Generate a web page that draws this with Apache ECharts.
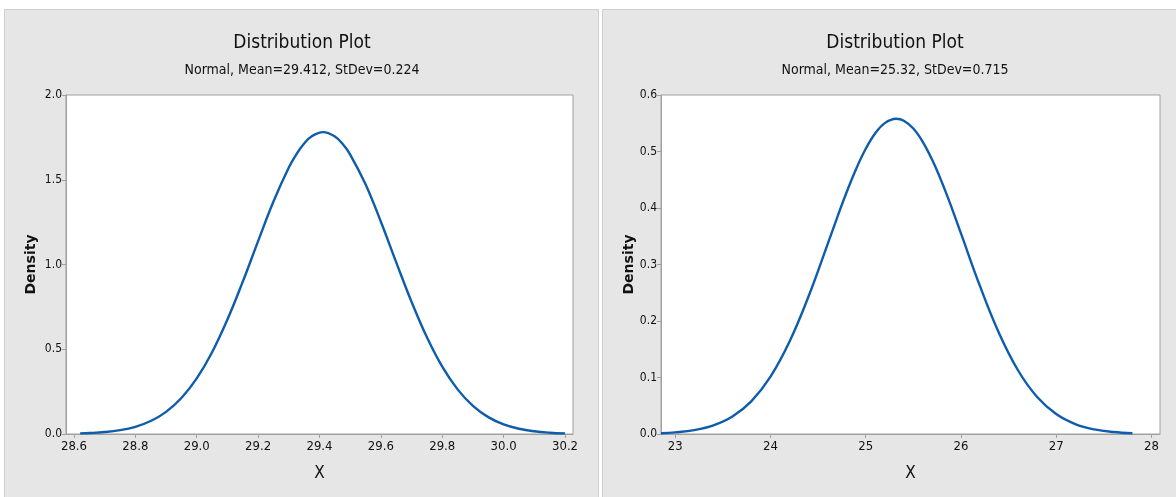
<!DOCTYPE html>
<html><head><meta charset="utf-8">
<script src="https://cdn.jsdelivr.net/npm/echarts@6/dist/echarts.min.js"></script>
<style>html,body{margin:0;padding:0;background:#fff}#c{width:1176px;height:497px}</style>
</head><body><div id="c"></div>
<script>
// Left panel: Normal, Mean=29.412, StDev=0.224
const leftX = [28.62,28.65,28.70,28.75,28.80,28.85,28.90,28.95,29.00,29.05,29.10,29.15,29.20,29.25,29.30,29.325,29.35,29.375,29.412,29.45,29.475,29.50,29.55,29.60,29.65,29.70,29.75,29.80,29.85,29.90,29.95,30.00,30.05,30.10,30.15,30.20];
const leftDensity = [0.0034,0.0055,0.0114,0.0226,0.0426,0.0765,0.1307,0.2123,0.3281,0.4825,0.6751,0.8987,1.1380,1.3712,1.5717,1.6516,1.7141,1.7569,1.7810,1.7556,1.7119,1.6487,1.4732,1.2523,1.0128,0.7793,0.5705,0.3973,0.2633,0.1660,0.0996,0.0568,0.0308,0.0159,0.0078,0.0037];
const leftXTicks = [28.6,28.8,29.0,29.2,29.4,29.6,29.8,30.0,30.2];
// Right panel: Normal, Mean=25.32, StDev=0.715
const rightX = [22.85,23.0,23.2,23.4,23.6,23.8,24.0,24.2,24.4,24.6,24.7,24.8,24.9,25.0,25.1,25.2,25.32,25.4,25.5,25.6,25.7,25.8,25.9,26.0,26.2,26.4,26.6,26.8,27.0,27.2,27.4,27.6,27.8];
const rightDensity = [0.0014,0.0029,0.0069,0.0152,0.0309,0.0582,0.1015,0.1636,0.2438,0.3361,0.3831,0.4283,0.4696,0.5048,0.5322,0.5502,0.5580,0.5545,0.5406,0.5168,0.4845,0.4454,0.4016,0.3550,0.2616,0.1783,0.1124,0.0655,0.0353,0.0176,0.0081,0.0035,0.0014];
const rightXTicks = [23,24,25,26,27,28];
const titles = ['Distribution Plot','Distribution Plot'];
const subtitles = ['Normal, Mean=29.412, StDev=0.224','Normal, Mean=25.32, StDev=0.715'];

const FONT = '"DejaVu Sans Condensed","Noto Sans",sans-serif';
const AX = '#a0a0a0';
const LINE = '#0d5dac';

function xAxisCfg(idx, min, max, ticks, fmt){
  return {type:'value', gridIndex:idx, min:min, max:max, name:'X', nameLocation:'middle', nameGap:31,
    nameTextStyle:{fontFamily:FONT,fontSize:17,color:'#111'},
    axisLine:{show:true,lineStyle:{color:AX,width:1}},
    axisTick:{show:true,length:4,inside:false,lineStyle:{color:AX},customValues:ticks},
    axisLabel:{customValues:ticks,formatter:fmt,fontFamily:FONT,fontSize:13,color:'#111',margin:6},
    splitLine:{show:false}};
}
function yAxisCfg(idx, max, interval, gap){
  return {type:'value', gridIndex:idx, min:0, max:max, interval:interval, name:'Density', nameLocation:'middle', nameGap:gap, nameRotate:90,
    nameTextStyle:{fontFamily:'"DejaVu Sans",sans-serif',fontSize:14,fontWeight:'bold',color:'#111'},
    axisLine:{show:true,lineStyle:{color:AX,width:1}},
    axisTick:{show:true,length:4,lineStyle:{color:AX}},
    axisLabel:{formatter:v=>v.toFixed(1),fontFamily:FONT,fontSize:12,color:'#111',margin:4},
    splitLine:{show:false}};
}
function titleCfg(i, x){
  return {text:titles[i],subtext:subtitles[i],left:x,top:34,textAlign:'center',itemGap:10,padding:0,
    textStyle:{fontFamily:FONT,fontSize:19,fontWeight:'normal',color:'#111'},
    subtextStyle:{fontFamily:FONT,fontSize:14,color:'#111'}};
}

const chart = echarts.init(document.getElementById('c'));
chart.setOption({
  backgroundColor:'#e6e6e6',
  animation:false,
  title:[ titleCfg(0,302), titleCfg(1,895) ],
  grid:[
    {left:66,top:95,width:507,height:339,show:true,backgroundColor:'#fff',borderColor:AX,borderWidth:1},
    {left:661,top:95,width:499,height:339,show:true,backgroundColor:'#fff',borderColor:AX,borderWidth:1}
  ],
  xAxis:[
    xAxisCfg(0,28.574,30.226,leftXTicks,v=>v.toFixed(1)),
    xAxisCfg(1,22.85,28.09,rightXTicks,v=>String(Math.round(v)))
  ],
  yAxis:[ yAxisCfg(0,2,0.5,28), yAxisCfg(1,0.6,0.1,25) ],
  series:[
    {type:'line',xAxisIndex:0,yAxisIndex:0,data:leftX.map((x,i)=>[x,leftDensity[i]]),smooth:0.4,showSymbol:false,
      lineStyle:{color:LINE,width:2.4}},
    {type:'line',xAxisIndex:1,yAxisIndex:1,data:rightX.map((x,i)=>[x,rightDensity[i]]),smooth:0.4,showSymbol:false,
      lineStyle:{color:LINE,width:2.4}}
  ],
  graphic:[
    {type:'rect',z:100,shape:{x:0,y:0,width:1176,height:9},style:{fill:'#fff'}},
    {type:'rect',z:100,shape:{x:0,y:0,width:4,height:497},style:{fill:'#fff'}},
    {type:'rect',z:100,shape:{x:599,y:0,width:3,height:497},style:{fill:'#fff'}},
    {type:'rect',z:101,shape:{x:4.5,y:9.5,width:594,height:490},style:{fill:null,stroke:'#cfcfcf',lineWidth:1}},
    {type:'rect',z:101,shape:{x:602.5,y:9.5,width:580,height:490},style:{fill:null,stroke:'#cfcfcf',lineWidth:1}}
  ]
});
</script></body></html>
